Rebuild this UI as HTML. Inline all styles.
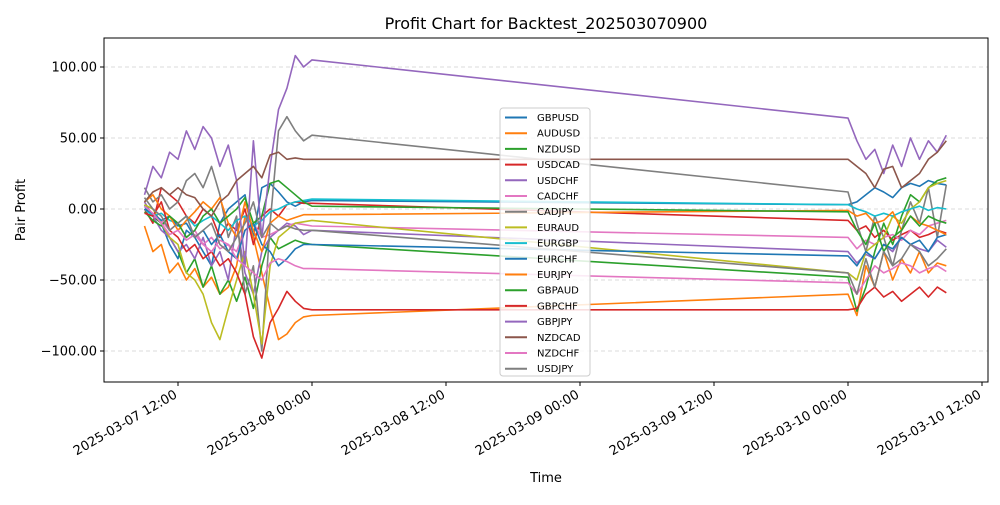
<!DOCTYPE html>
<html><head><meta charset="utf-8"><style>
body{margin:0;background:#fff;font-family:"Liberation Sans","DejaVu Sans",sans-serif}
</style></head><body>
<svg id="chart" width="1000" height="500" xmlns="http://www.w3.org/2000/svg" font-family="DejaVu Sans, Liberation Sans, sans-serif"></svg>
<script>
const names=["GBPUSD","AUDUSD","NZDUSD","USDCAD","USDCHF","CADCHF","CADJPY","EURAUD","EURGBP","EURCHF","EURJPY","GBPAUD","GBPCHF","GBPJPY","NZDCAD","NZDCHF","USDJPY"];
const colors=["#1f77b4","#ff7f0e","#2ca02c","#d62728","#9467bd","#e377c2","#7f7f7f","#bcbd22","#17becf","#1f77b4","#ff7f0e","#2ca02c","#d62728","#9467bd","#8c564b","#e377c2","#7f7f7f"];
// hours since 2025-03-07 00:00
const times1=[9,9.75,10.5,11.25,12,12.75,13.5,14.25,15,15.75,16.5,17.25,18,18.75,19.5,20.25,21,21.75,22.5,23.25,24];
const times2=[72,72.8,73.6,74.4,75.2,76,76.8,77.6,78.4,79.2,80,80.8];
const yTicks=[-100,-50,0,50,100];
const xTickHours=[12,24,36,48,60,72,84];
const xTickLabels=["2025-03-07 12:00","2025-03-08 00:00","2025-03-08 12:00","2025-03-09 00:00","2025-03-09 12:00","2025-03-10 00:00","2025-03-10 12:00"];
const GBPUSD=[2,-5,-10,-25,-35,-15,-20,-30,-40,-10,0,5,10,-20,15,18,12,5,2,5,6, 3,5,10,15,12,8,15,18,16,20,18,17];
const AUDUSD=[-12,-30,-25,-45,-38,-50,-42,-55,-48,-60,-55,-40,-5,-20,-45,-70,-92,-88,-80,-76,-75, -60,-75,-40,-55,-30,-50,-35,-45,-30,-45,-38,-40];
const NZDUSD=[3,-5,-10,-20,-30,-45,-35,-55,-40,-60,-50,-65,-48,-70,-40,-20,-28,-25,-22,-24,-25, -48,-72,-55,-30,-10,-25,-5,10,5,15,20,22];
const USDCAD=[0,-10,15,10,5,-5,-10,0,-5,-20,-10,-15,0,-25,-5,0,-5,3,5,4,4, -8,-15,-12,-20,-15,-22,-18,-15,-20,-18,-15,-17];
const USDCHF=[5,-5,-15,-20,-30,-25,-35,-20,-40,-30,-50,-10,-45,-60,-30,-20,-15,-10,-12,-18,-15, -30,-38,-32,-35,-25,-30,-20,-25,-28,-30,-22,-27];
const CADCHF=[0,-5,-8,-15,-10,-20,-15,-25,-20,-28,-25,-30,-15,-10,-20,-18,-15,-12,-10,-11,-12, -20,-28,-22,-25,-20,-18,-22,-15,-18,-12,-10,-8];
const CADJPY=[15,5,10,0,5,20,25,15,30,10,-20,-5,-60,-40,-100,-10,55,65,55,48,52, 12,-10,-30,-5,-20,-40,-15,5,-10,15,-20,17];
const EURAUD=[3,0,-10,-20,-25,-45,-50,-60,-80,-92,-70,-50,-30,-60,-95,-40,-20,-15,-10,-9,-8, -45,-50,-30,-25,-20,-5,-10,0,5,15,18,20];
const EURGBP=[0,-5,-3,-8,-10,-5,-12,-8,-5,-10,-15,-8,-5,-12,-8,-2,0,3,5,6,7, 3,0,-2,-5,-3,-5,-2,0,2,-1,1,0];
const EURCHF=[0,-3,-8,-5,-12,-10,-20,-15,-25,-18,-30,-35,-15,-10,-25,-30,-40,-35,-28,-25,-25, -33,-40,-30,-35,-25,-28,-20,-25,-22,-30,-20,-18];
const EURJPY=[5,10,0,-5,-15,-8,-2,5,0,8,-10,-20,5,-15,-30,-10,-5,-8,-6,-4,-4, -1,-5,-3,-10,-8,-2,-15,-5,-10,-12,-15,-18];
const GBPAUD=[-2,-8,-12,-5,-10,-20,-15,-5,0,-10,-5,0,8,-10,-5,18,20,15,10,5,2, -2,-15,-25,-10,-30,-20,-15,-5,-12,-5,-8,-10];
const GBPCHF=[-3,-5,5,-15,-20,-30,-25,-35,-30,-40,-35,-45,-60,-90,-105,-80,-70,-58,-65,-70,-71, -71,-70,-60,-55,-62,-58,-65,-60,-55,-62,-55,-59];
const GBPJPY=[10,30,22,40,35,55,42,58,50,30,45,20,-40,48,-20,30,70,85,108,100,105, 64,48,35,42,25,45,30,50,35,48,40,52];
const NZDCAD=[5,12,15,10,15,10,8,0,-5,5,10,20,25,30,22,38,40,35,36,35,35, 35,30,25,15,28,30,15,20,25,35,40,48];
const NZDCHF=[2,-3,-10,-18,-15,-22,-18,-25,-30,-22,-25,-35,-40,-45,-50,-38,-35,-37,-40,-42,-42, -52,-60,-50,-40,-45,-42,-38,-40,-45,-42,-40,-44];
const USDJPY=[8,0,-5,-15,-10,-5,-20,-15,-10,-25,-30,-20,-10,5,-20,-10,-15,-12,-14,-15,-15, -45,-60,-35,-55,-30,-40,-35,-25,-30,-40,-35,-28];
const seriesVals=[GBPUSD,AUDUSD,NZDUSD,USDCAD,USDCHF,CADCHF,CADJPY,EURAUD,EURGBP,EURCHF,EURJPY,GBPAUD,GBPCHF,GBPJPY,NZDCAD,NZDCHF,USDJPY];

const svg=document.getElementById('chart');
const NS="http://www.w3.org/2000/svg";
const L=104,R=988,T=38,B=382;
const xs=h=>178+(h-12)*(134/12);
const ys=v=>209-v*1.42;
function mk(tag,attrs,parent){const e=document.createElementNS(NS,tag);for(const k in attrs)e.setAttribute(k,attrs[k]);(parent||svg).appendChild(e);return e;}
const times=times1.concat(times2);

// grid + y ticks
yTicks.forEach(v=>{
  const g=mk('line',{x1:L,x2:R,y1:ys(v),y2:ys(v),stroke:'#d0d0d0','stroke-dasharray':'4,3','stroke-width':0.8});
  
  
  const t=mk('line',{x1:L-4,x2:L,y1:ys(v),y2:ys(v),stroke:'#000'});
  
  
  const lb=mk('text',{x:L-7,y:ys(v)+4.5,'text-anchor':'end','font-size':13});
  lb.textContent=(v<0?'\u2212':'')+Math.abs(v).toFixed(2);
  
  
});
// x ticks
xTickHours.forEach((h,i)=>{
  const x=xs(h);
  const t=mk('line',{x1:x,x2:x,y1:B,y2:B+4,stroke:'#000'});
  
  
  const lb=mk('text',{x:x,y:B+15,'text-anchor':'end','font-size':13,transform:`rotate(-30 ${x} ${B+15})`});
  lb.textContent=xTickLabels[i];
  
  
});
// series
seriesVals.forEach((vals,i)=>{
  const d=vals.map((v,j)=>(j?'L':'M')+xs(times[j]).toFixed(1)+','+ys(v).toFixed(1)).join(' ');
  const p=mk('path',{d:d,fill:'none',stroke:colors[i],'stroke-width':1.6,'stroke-linejoin':'round'});
  
  
});
// frame
const fr=mk('rect',{x:L,y:T,width:R-L,height:B-T,fill:'none',stroke:'#000','stroke-width':1});


// title & axis labels
const ti=mk('text',{x:546,y:29,'text-anchor':'middle','font-size':16});
ti.textContent='Profit Chart for Backtest_202503070900';


const xl=mk('text',{x:546,y:482,'text-anchor':'middle','font-size':13});
xl.textContent='Time';


const yl=mk('text',{x:25,y:210,'text-anchor':'middle','font-size':13,transform:'rotate(-90 25 210)'});
yl.textContent='Pair Profit';


// legend
const lg=mk('g',{});


mk('rect',{x:500,y:108,width:90,height:268,rx:3,fill:'#fff','fill-opacity':0.85,stroke:'#ccc'},lg);
names.forEach((n,i)=>{
  const y=117.5+i*15.7;
  const e=mk('g',{},lg);
  
  
  mk('line',{x1:505,x2:527,y1:y,y2:y,stroke:colors[i],'stroke-width':2},e);
  const t=mk('text',{x:537,y:y+3.5,'font-size':10},e);
  t.textContent=n;
});
</script>
</body></html>
